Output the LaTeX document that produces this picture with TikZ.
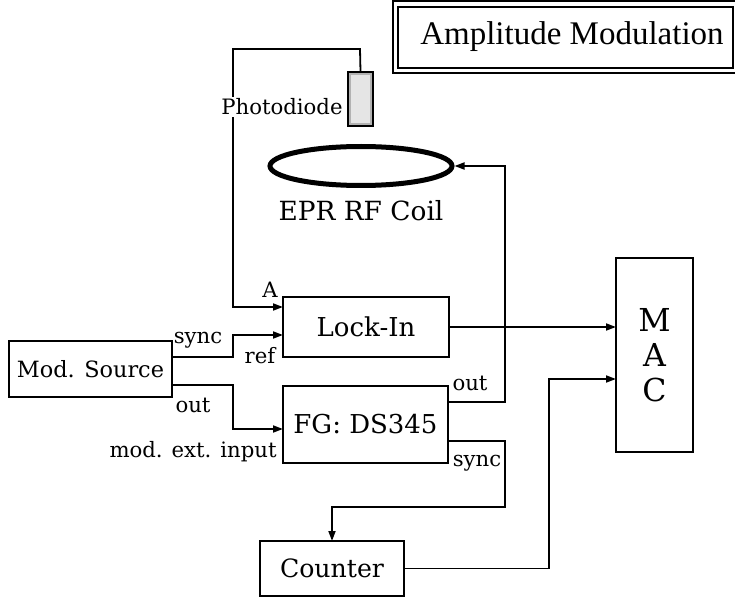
\documentclass[tikz,border=0pt]{standalone}
\usepackage{fontspec}
\setmainfont{DejaVu Serif}
\newfontfamily\titlefont{Liberation Serif}
\usetikzlibrary{shapes,positioning,calc,arrows.meta}

\begin{document}
\begin{tikzpicture}[
    x=0.5pt, y=-0.5pt,
    box/.style = {draw, line width=0.9pt, inner sep=0pt, outer sep=0pt},
    big/.style = {font=\fontsize{13}{16}\selectfont},
    lbl/.style = {font=\fontsize{10.6}{13}\selectfont, inner sep=1pt},
    wire/.style = {line width=0.9pt},
    arr/.style = {wire, -{Triangle[length=5pt,width=3.5pt]}},
    ]
    \useasboundingbox (0,0) rectangle (735,599);
    % title box
    \draw[line width=0.9pt] (393,1) rectangle (745,73);
    \draw[line width=0.9pt] (398,7) rectangle (733,68);
    \node[font=\titlefont\fontsize{16.5}{20}\selectfont] (title) at (572,37) {Amplitude Modulation};

    % instruments
    \node[box, minimum width=81.5pt, minimum height=28pt, font=\fontsize{11.2}{14}\selectfont] (src) at (90.5,369) {Mod. Source};
    \node[box, big, minimum width=83pt, minimum height=30pt] (lockin) at (366,327) {Lock-In};
    \node[box, big, minimum width=82.5pt, minimum height=38.5pt] (fg) at (365.5,424.5) {FG: DS345};
    \node[box, minimum width=72pt, minimum height=27.5pt, font=\fontsize{12.6}{15}\selectfont] (counter) at (332,568.5) {Counter};
    \node[box, minimum width=38.5pt, minimum height=97pt, align=center, font=\fontsize{15.8}{17.5}\selectfont] (mac) at (654.5,355) {M\\A\\C};

    % coil and photodiode
    \node[draw, ellipse, line width=2.5pt, minimum width=91pt, minimum height=19.5pt, inner sep=0pt] (coil) at (361,166) {};
    \node[font=\fontsize{13.2}{16}\selectfont] (coillbl) at (361,211) {EPR RF Coil};
    \node[draw, line width=0.6pt, fill=gray!60, minimum width=12.5pt, minimum height=27pt, inner sep=0pt] (pd) at (360.5,99) {};
    \fill[gray!20] ($(pd.south west)+(4,-4)$) rectangle ($(pd.north east)+(-4,4)$);

    % corners of the wires
    \coordinate (pdtop) at (360,49);
    \coordinate (pdleft) at (233,49);
    \coordinate (yA) at (233,307);
    \coordinate (syncout) at (233,357);
    \coordinate (yref) at (233,335);
    \coordinate (modout) at (233,385);
    \coordinate (ymod) at (233,429);
    \coordinate (fgout) at (505,402);
    \coordinate (fgsync) at (505,441);
    \coordinate (fgdown) at (505,507);
    \coordinate (cntup) at (549,379);

    % wires
    \draw[arr] (pd.north) -- (pdtop) -- (pdleft) -- (yA) -- (lockin.west |- yA);
    \draw[arr] (src.east |- syncout) -- (syncout) -- (yref) -- (lockin.west |- yref);
    \draw[arr] (src.east |- modout) -- (modout) -- (ymod) -- (fg.west |- ymod);
    \draw[arr] (lockin.east) -- (lockin.east -| mac.west);
    \draw[arr] (fg.east |- fgout) -- (fgout) |- (coil.east);
    \draw[arr] (fg.east |- fgsync) -- (fgsync) -- (fgdown) -| (counter.north);
    \draw[arr] (counter.east) -| (cntup) -- (mac.west |- cntup);

    % port labels
    \node[lbl, fill=white] (pdlbl) at (282,107) {Photodiode};
    \node[lbl] (ina) at (270,290) {A};
    \node[lbl] (srcsync) at (198,340) {sync};
    \node[lbl] (inref) at (260,356) {ref};
    \node[lbl] (srcout) at (193,405) {out};
    \node[lbl, anchor=east] (inmod) at (279,452) {mod. ext. input};
    \node[lbl] (fgouttxt) at (470,383) {out};
    \node[lbl] (fgsynctxt) at (477,463) {sync};
\end{tikzpicture}
\end{document}
